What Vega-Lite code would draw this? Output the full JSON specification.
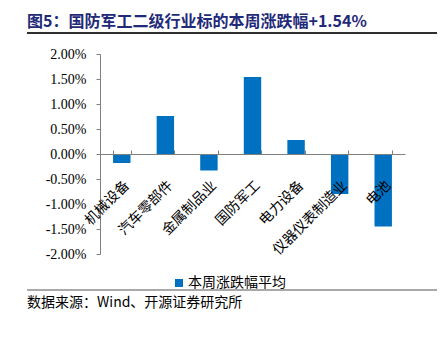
{
  "$schema": "https://vega.github.io/schema/vega-lite/v6.json",
  "padding": {"left": 24, "top": 14, "right": 11, "bottom": 0},
  "config": {"view": {"stroke": null}, "font": "Noto Sans CJK SC"},
  "width": 305,
  "height": 200,
  "layer": [
    {
      "data": {
        "values": [
          {"industry": "机械设备", "change": -0.0018},
          {"industry": "汽车零部件", "change": 0.0076},
          {"industry": "金属制品业", "change": -0.0033},
          {"industry": "国防军工", "change": 0.0154},
          {"industry": "电力设备", "change": 0.0028},
          {"industry": "仪器仪表制造业", "change": -0.0080},
          {"industry": "电池", "change": -0.0145}
        ]
      },
      "mark": {"type": "bar"},
      "encoding": {
        "x": {
          "field": "industry",
          "type": "nominal",
          "sort": null,
          "scale": {"paddingInner": 0.6, "paddingOuter": 0.3},
          "axis": {
            "title": null,
            "orient": "bottom",
            "offset": -100,
            "labelAngle": -45,
            "labelFont": "Noto Sans CJK SC",
            "labelFontSize": 14,
            "labelColor": "#000000",
            "domainColor": "#7f7f7f",
            "tickColor": "#7f7f7f",
            "tickBand": "extent",
            "tickSize": -4,
            "labelPadding": 28,
            "zindex": 1
          }
        },
        "y": {
          "field": "change",
          "type": "quantitative",
          "scale": {"domain": [-0.02, 0.02], "nice": false},
          "axis": {
            "title": null,
            "grid": false,
            "values": [-0.02, -0.015, -0.01, -0.005, 0, 0.005, 0.01, 0.015, 0.02],
            "format": ".2%",
            "labelExpr": "replace(datum.label, '\u2212', '-')",
            "labelFont": "Liberation Serif",
            "labelFontSize": 14,
            "labelColor": "#000000",
            "domainColor": "#7f7f7f",
            "tickColor": "#7f7f7f",
            "tickSize": 4,
            "labelPadding": 10
          }
        },
        "color": {
          "datum": "本周涨跌幅平均",
          "type": "nominal",
          "scale": {"range": ["#0070c0"]},
          "legend": {
            "title": null,
            "orient": "none",
            "legendX": 72,
            "legendY": 222,
            "symbolType": "square",
            "symbolSize": 64,
            "symbolStrokeWidth": 0,
            "labelFont": "Noto Sans CJK SC",
            "labelFontSize": 14,
            "labelColor": "#000000",
            "labelOffset": 2
          }
        }
      }
    },
    {
      "data": {
        "values": [
          {"line": "header", "x0": 0, "x1": 1, "v": 1},
          {"line": "footer", "x0": 0, "x1": 1, "v": 0}
        ]
      },
      "encoding": {
        "x": {"field": "x0", "type": "quantitative", "scale": {"domain": [0.17805, 0.92195], "nice": false, "zero": false}, "axis": null},
        "y": {"field": "v", "type": "quantitative", "scale": {"domain": [0.1401, 0.9183], "nice": false, "zero": false}, "axis": null}
      },
      "layer": [
        {
          "mark": {"type": "rule", "strokeWidth": 1.3, "clip": false},
          "encoding": {
            "x2": {"field": "x1"},
            "color": {"field": "line", "type": "nominal", "scale": {"domain": ["header", "footer"], "range": ["#222222", "#8c8c8c"]}, "legend": null}
          }
        },
        {
          "data": {
            "values": [
              {"x0": 0, "v": 1},
              {"x0": 1, "v": 1}
            ]
          },
          "mark": {"type": "line", "strokeWidth": 1.3, "color": "#222222", "clip": false},
          "encoding": {}
        },
        {
          "transform": [{"filter": "datum.line === 'header'"}],
          "mark": {"type": "text", "align": "left", "baseline": "alphabetic", "dy": -6, "font": "Noto Sans CJK SC", "fontSize": 16, "fontWeight": "bold", "color": "#1f2a78"},
          "encoding": {
            "text": {"value": "图5：国防军工二级行业标的本周涨跌幅+1.54%"}
          }
        },
        {
          "transform": [{"filter": "datum.line === 'footer'"}],
          "mark": {"type": "text", "align": "left", "baseline": "top", "dy": 6, "font": "Noto Sans CJK SC", "fontSize": 14, "color": "#000000"},
          "encoding": {
            "text": {"value": "数据来源：Wind、开源证券研究所"}
          }
        }
      ]
    }
  ],
  "resolve": {"scale": {"x": "independent", "y": "independent", "color": "independent"}}
}
